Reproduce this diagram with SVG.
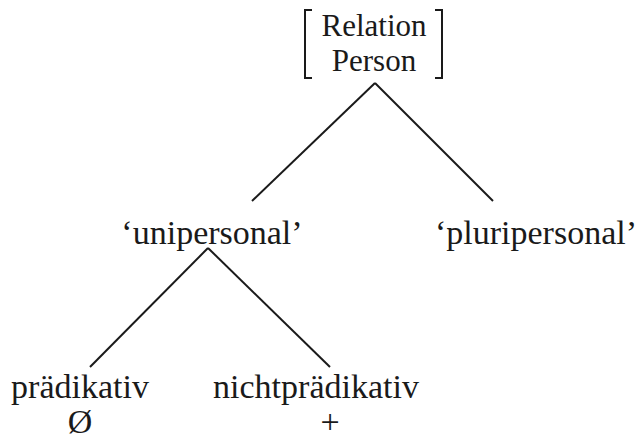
<svg xmlns="http://www.w3.org/2000/svg" width="640" height="439" viewBox="0 0 640 439">
<style>
text{font-family:"Liberation Serif","DejaVu Serif",serif;font-size:34px;fill:#1a1a1a;text-anchor:middle}
.r{font-size:31px}
.l{stroke:#1a1a1a;stroke-width:2;fill:none}
</style>
<rect width="640" height="439" fill="#fff"/>
<g id="root">
<path class="l" d="M312,10 H305 V78 H312"/>
<path class="l" d="M435,10 H442 V78 H435"/>
<text class="r" x="374" y="36">Relation</text>
<text class="r" x="374" y="71">Person</text>
</g>
<g id="unipersonal"><text x="212" y="244">‘unipersonal’</text></g>
<g id="pluripersonal"><text x="536" y="244">‘pluripersonal’</text></g>
<g id="praedikativ"><text x="80" y="398">prädikativ</text><text x="80" y="433">Ø</text></g>
<g id="nichtpraedikativ"><text x="316" y="398">nichtprädikativ</text><text x="330" y="433">+</text></g>
<g id="connectors">
<line class="l" x1="375" y1="83" x2="252" y2="201"/>
<line class="l" x1="375" y1="83" x2="493" y2="201"/>
<line class="l" x1="208" y1="248" x2="90" y2="367"/>
<line class="l" x1="208" y1="248" x2="330" y2="367"/>
</g>
</svg>
